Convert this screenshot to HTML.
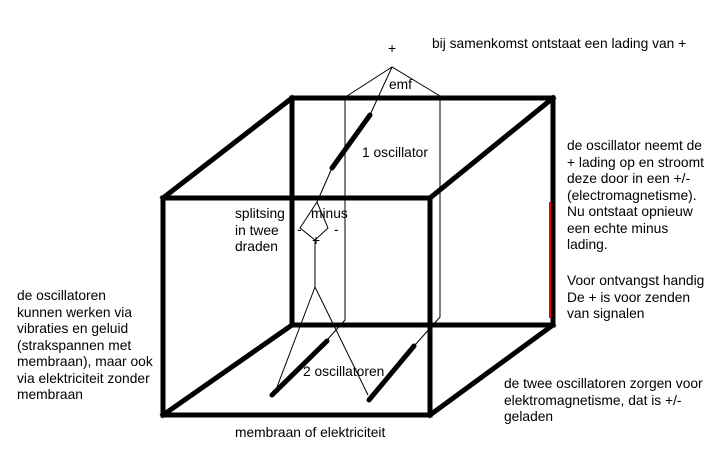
<!DOCTYPE html>
<html><head><style>
body{margin:0;background:#fff;}
.t{position:absolute;font-family:"Liberation Sans",sans-serif;font-size:13.8px;color:#000;line-height:16.5px;white-space:nowrap;}
</style></head><body>
<div style="position:relative;width:726px;height:449px;overflow:hidden">
<svg width="726" height="449" style="position:absolute;left:0;top:0">
<g stroke="#000" stroke-width="5" fill="none" stroke-linecap="square">
<rect x="292" y="98" width="261" height="227"/>
<rect x="163" y="198" width="267" height="217"/>
<line x1="163" y1="198" x2="292" y2="98"/>
<line x1="430" y1="198" x2="553" y2="98"/>
<line x1="163" y1="415" x2="292" y2="325"/>
<line x1="430" y1="415" x2="553" y2="325"/>
</g>
<line x1="550" y1="202" x2="550" y2="318" stroke="#e00" stroke-width="2"/>
<g stroke="#000" stroke-width="1" fill="none">
<polyline points="347,96 392,67 440,96"/>
<polyline points="345,96 345,320 327,340"/>
<polyline points="440,96 440,317 415,345"/>
<line x1="392" y1="67" x2="370" y2="115"/>
<line x1="332" y1="168" x2="317" y2="202"/>
<polygon points="317,202 300,228 315,240 328,228"/>
<line x1="315" y1="240" x2="315" y2="287"/>
<line x1="315" y1="287" x2="277" y2="387"/>
<line x1="315" y1="287" x2="368" y2="395"/>
</g>
<g stroke="#000" stroke-width="5" stroke-linecap="round">
<line x1="332" y1="168" x2="370" y2="115"/>
<line x1="272" y1="395" x2="327" y2="341"/>
<line x1="369" y1="400" x2="414" y2="346"/>
</g>
</svg>
<div class="t" style="left:388px;top:41px">+</div>
<div class="t" style="left:432px;top:36px">bij samenkomst ontstaat een lading van +</div>
<div class="t" style="left:389px;top:77px">emf</div>
<div class="t" style="left:362px;top:145px">1 oscillator</div>
<div class="t" style="left:235px;top:206px">splitsing<br>in twee<br>draden</div>
<div class="t" style="left:311px;top:206px">minus</div>
<div class="t" style="left:297px;top:222px">-</div>
<div class="t" style="left:334px;top:222px">-</div>
<div class="t" style="left:312px;top:233px">+</div>
<div class="t" style="left:567px;top:138px">de oscillator neemt de<br>+ lading op en stroomt<br>deze door in een +/-<br>(electromagnetisme).<br>Nu ontstaat opnieuw<br>een echte minus<br>lading.</div>
<div class="t" style="left:567px;top:273px">Voor ontvangst handig<br>De + is voor zenden<br>van signalen</div>
<div class="t" style="left:17px;top:288px">de oscillatoren<br>kunnen werken via<br>vibraties en geluid<br>(strakspannen met<br>membraan), maar ook<br>via elektriciteit zonder<br>membraan</div>
<div class="t" style="left:303px;top:364px">2 oscillatoren</div>
<div class="t" style="left:504px;top:376px">de twee oscillatoren zorgen voor<br>elektromagnetisme, dat is +/-<br>geladen</div>
<div class="t" style="left:235px;top:425px">membraan of elektriciteit</div>
</div>
</body></html>
